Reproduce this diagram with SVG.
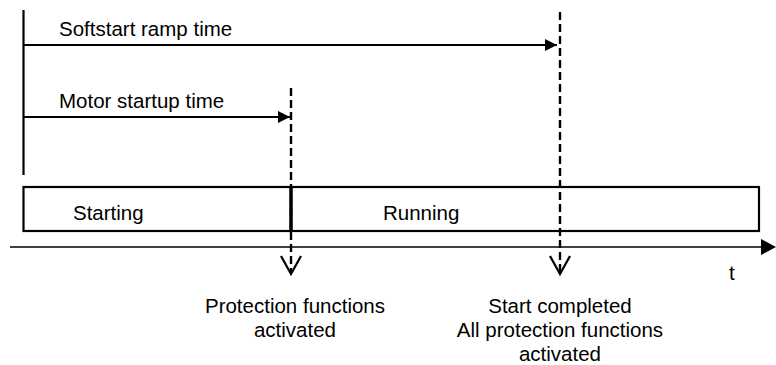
<svg xmlns="http://www.w3.org/2000/svg" width="776" height="365" viewBox="0 0 776 365">
<defs>
<style>
text{font-family:"Liberation Sans",Arial,sans-serif;font-size:20.5px;fill:#000}
.ln{stroke:#000;stroke-width:2.2;fill:none}
.dash{stroke:#000;stroke-width:2.4;fill:none;stroke-dasharray:8,4}
</style>
<marker id="ah" markerWidth="12" markerHeight="12" refX="12" refY="6" orient="auto" markerUnits="userSpaceOnUse">
<path d="M0,0 L12,6 L0,12 Z" fill="#000"/>
</marker>
</defs>
<rect width="776" height="365" fill="#fff"/>
<g id="connectors">
<line class="ln" x1="23.5" y1="10" x2="23.5" y2="175"/>
<line class="ln" x1="23.5" y1="45" x2="557" y2="45" marker-end="url(#ah)"/>
<line class="ln" x1="23.5" y1="117" x2="290" y2="117" marker-end="url(#ah)"/>
<line x1="10" y1="247" x2="762" y2="247" stroke="#000" stroke-width="1.6"/>
<path d="M761,239 L776,247 L761,255 Z" fill="#000"/>
<line class="dash" x1="291" y1="88" x2="291" y2="273"/>
<line class="dash" x1="560" y1="12" x2="560" y2="273"/>
<path class="ln" d="M281,256 L291,274 L301,256"/>
<path class="ln" d="M550,256 L560,274 L570,256"/>
</g>
<g id="box">
<rect class="ln" x="23.5" y="187" width="735.5" height="44"/>
<line x1="291" y1="186" x2="291" y2="232" stroke="#000" stroke-width="3.5"/>
</g>
<g id="labels">
<text x="59" y="36">Softstart ramp time</text>
<text x="59" y="108">Motor startup time</text>
<text x="73" y="220">Starting</text>
<text x="383" y="220">Running</text>
<text x="729" y="280">t</text>
<text x="295" y="313" text-anchor="middle">Protection functions</text>
<text x="295" y="337" text-anchor="middle">activated</text>
<text x="560" y="313" text-anchor="middle">Start completed</text>
<text x="560" y="337" text-anchor="middle">All protection functions</text>
<text x="560" y="361" text-anchor="middle">activated</text>
</g>
</svg>
